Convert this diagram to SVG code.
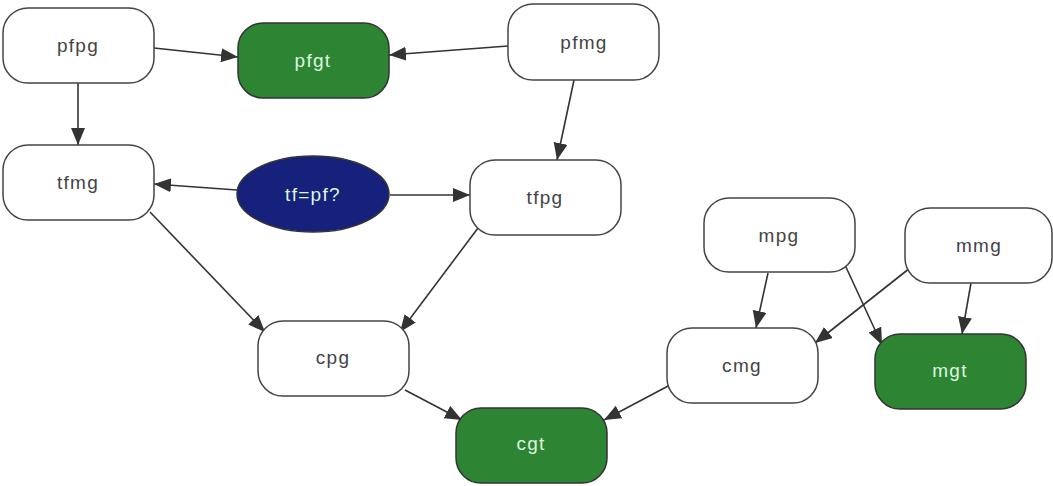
<svg xmlns="http://www.w3.org/2000/svg" width="1053" height="486" viewBox="0 0 1053 486">
<style>
.n{fill:#fff;stroke:#444;stroke-width:1.5}
.g{fill:#2d8534;stroke:#333;stroke-width:1.5}
.b{fill:#15217a;stroke:#333;stroke-width:1.5}
.t{font-family:"Liberation Sans",Arial,sans-serif;font-size:19px;letter-spacing:1.3px;fill:#444;text-anchor:middle;dominant-baseline:central}
.w{fill:#dff5df}
.e{stroke:#333;stroke-width:1.6;fill:none;marker-end:url(#a)}
</style>
<defs>
<marker id="a" markerUnits="userSpaceOnUse" markerWidth="20" markerHeight="16" refX="17" refY="7" orient="auto">
<path d="M0,0 L17,7 L0,14 Z" fill="#333"/>
</marker>
</defs>
<rect width="1053" height="486" fill="#fff"/>
<g id="edges">
<line class="e" x1="154" y1="48" x2="238" y2="57"/>
<line class="e" x1="508" y1="46" x2="389" y2="55"/>
<line class="e" x1="78" y1="83" x2="78" y2="145"/>
<line class="e" x1="574" y1="80" x2="557" y2="160"/>
<line class="e" x1="237" y1="190" x2="154" y2="184"/>
<line class="e" x1="390" y1="195" x2="470" y2="195"/>
<line class="e" x1="150" y1="212" x2="265" y2="332"/>
<line class="e" x1="478" y1="228" x2="400" y2="332"/>
<line class="e" x1="405" y1="390" x2="462" y2="420"/>
<line class="e" x1="670" y1="385" x2="604" y2="420"/>
<line class="e" x1="768" y1="273" x2="756" y2="328"/>
<line class="e" x1="845" y1="265" x2="882" y2="345"/>
<line class="e" x1="910" y1="268" x2="815" y2="343"/>
<line class="e" x1="971" y1="283" x2="962" y2="334"/>
</g>
<g id="pfpg"><rect class="n" x="3" y="8" width="151" height="75" rx="25"/><text class="t" x="78" y="45">pfpg</text></g>
<g id="pfgt"><rect class="g" x="238" y="23" width="151" height="75" rx="25"/><text class="t w" x="313" y="60">pfgt</text></g>
<g id="pfmg"><rect class="n" x="508" y="4" width="151" height="76" rx="25"/><text class="t" x="584" y="42">pfmg</text></g>
<g id="tfmg"><rect class="n" x="3" y="145" width="151" height="75" rx="25"/><text class="t" x="78" y="182">tfmg</text></g>
<g id="tfpf"><ellipse class="b" cx="313" cy="194" rx="76" ry="38"/><text class="t w" x="313" y="194">tf=pf?</text></g>
<g id="tfpg"><rect class="n" x="470" y="160" width="151" height="75" rx="25"/><text class="t" x="545" y="197">tfpg</text></g>
<g id="mpg"><rect class="n" x="704" y="198" width="151" height="74" rx="25"/><text class="t" x="779" y="235">mpg</text></g>
<g id="mmg"><rect class="n" x="905" y="208" width="147" height="75" rx="25"/><text class="t" x="979" y="245">mmg</text></g>
<g id="cpg"><rect class="n" x="258" y="321" width="151" height="75" rx="25"/><text class="t" x="333" y="357">cpg</text></g>
<g id="cmg"><rect class="n" x="667" y="328" width="151" height="75" rx="25"/><text class="t" x="742" y="365">cmg</text></g>
<g id="mgt"><rect class="g" x="875" y="334" width="151" height="75" rx="25"/><text class="t w" x="950" y="370">mgt</text></g>
<g id="cgt"><rect class="g" x="456" y="408" width="151" height="75" rx="25"/><text class="t w" x="531" y="443">cgt</text></g>
</svg>
